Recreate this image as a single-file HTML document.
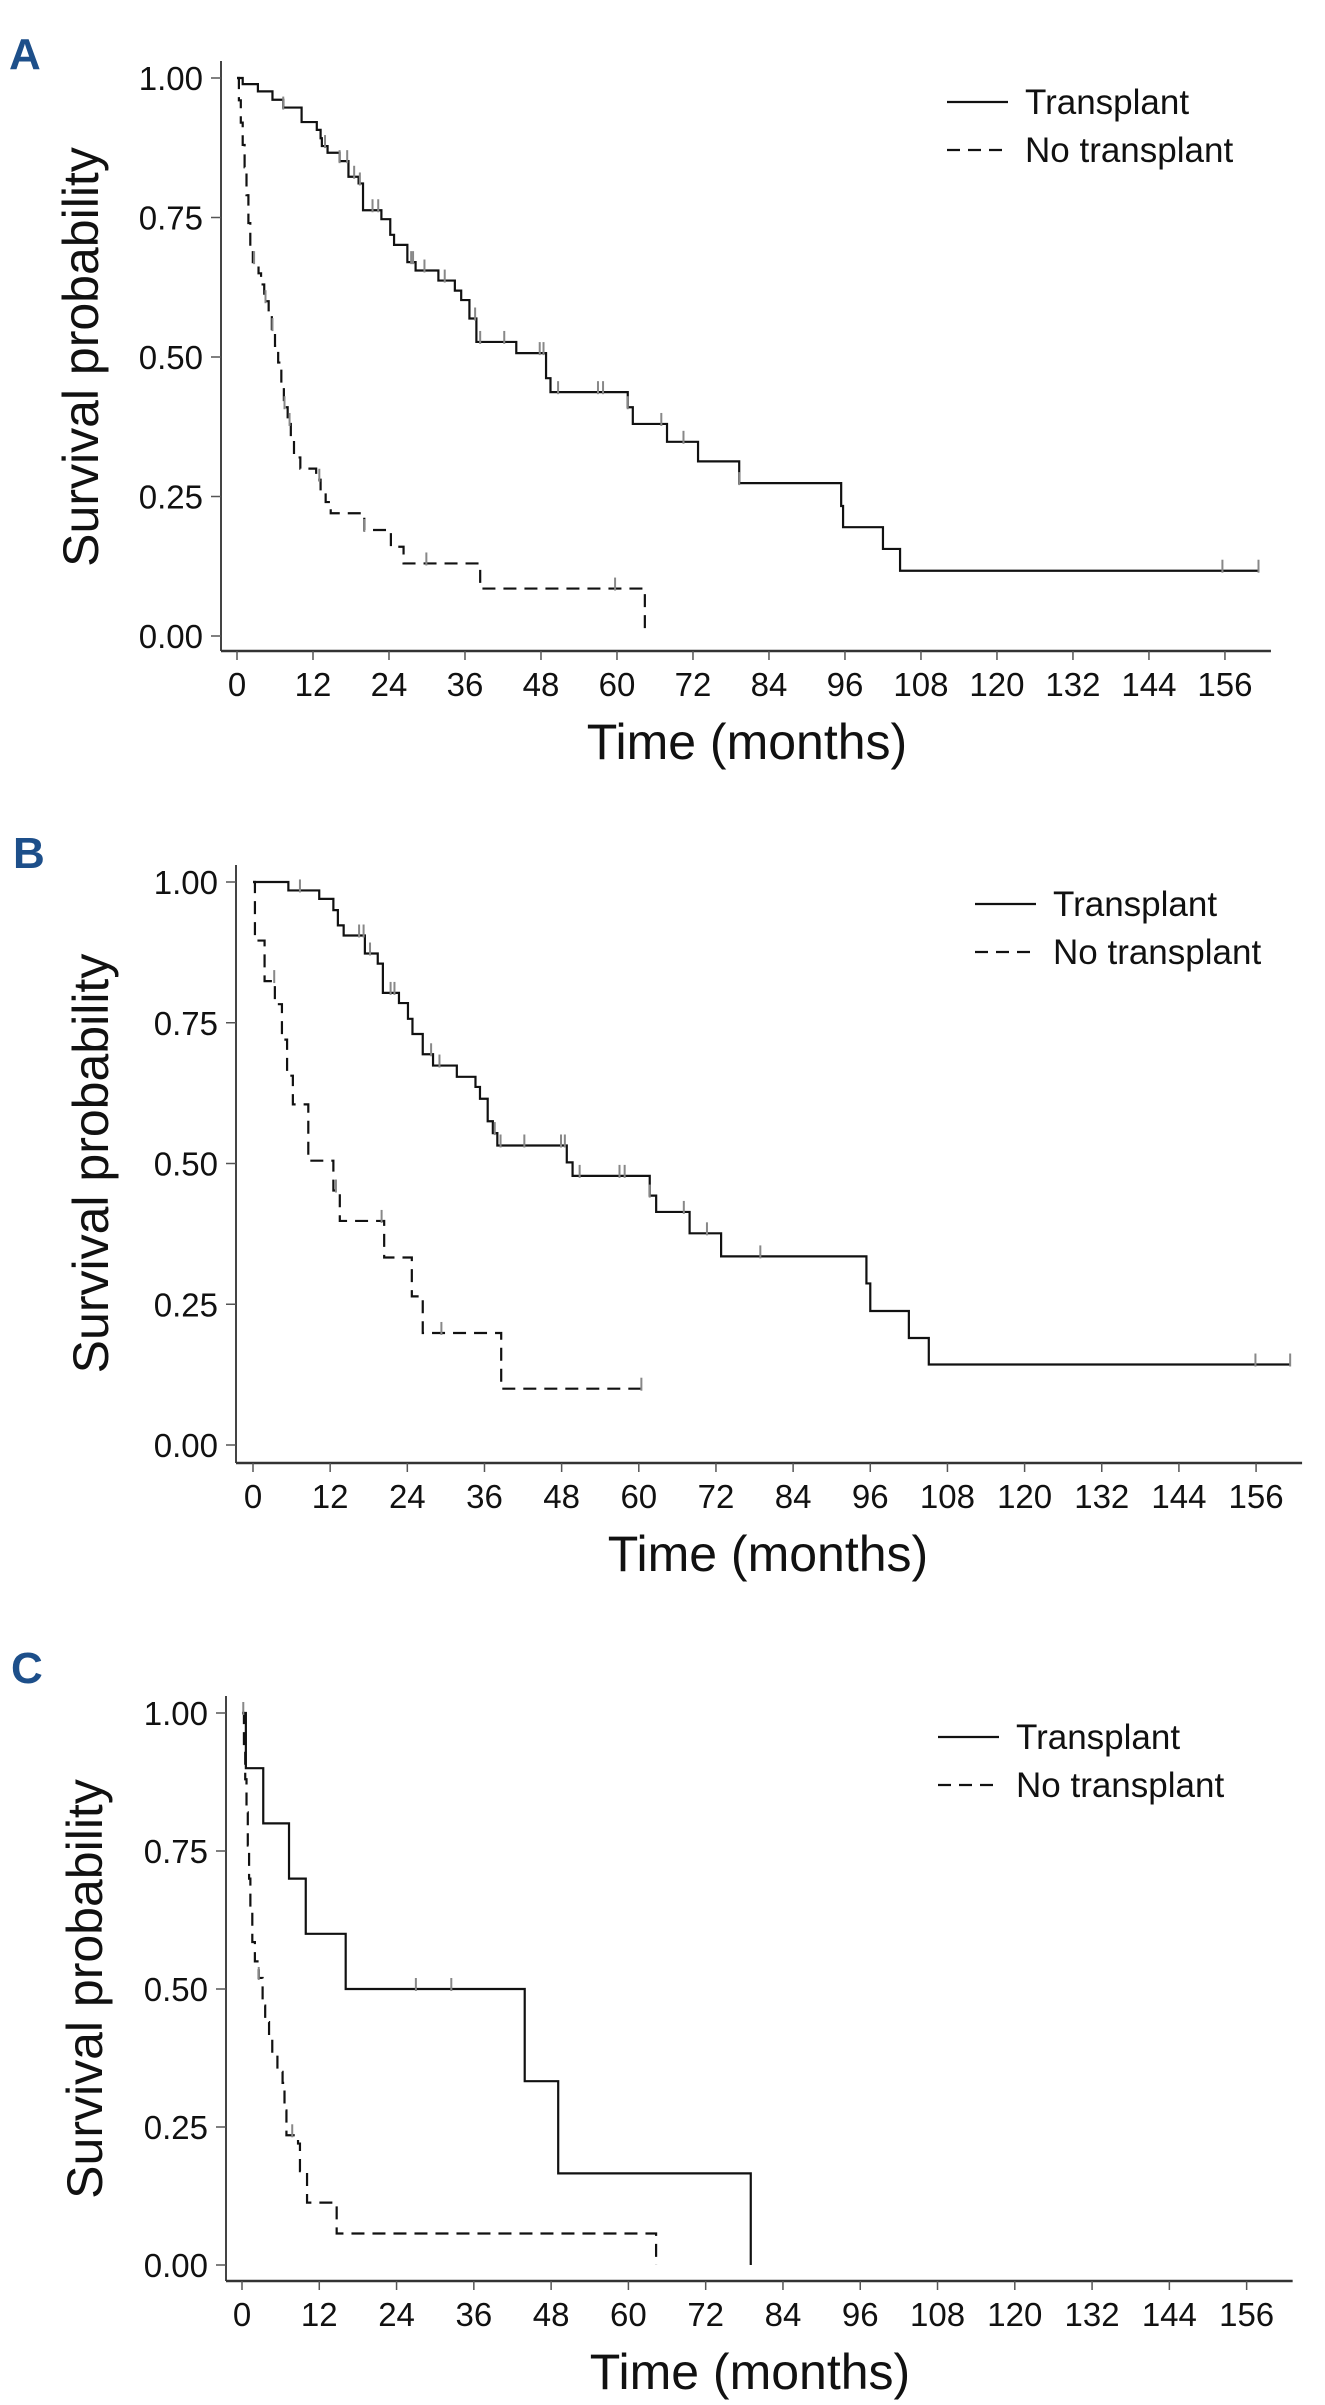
<!DOCTYPE html>
<html><head><meta charset="utf-8"><style>
html,body{margin:0;padding:0;background:#fff;}
svg{display:block;font-family:"Liberation Sans",Arial,sans-serif;}
</style></head><body>
<svg id="fig" width="1325" height="2405" viewBox="0 0 1325 2405" xmlns="http://www.w3.org/2000/svg"></svg>
<script>
// ---------- data ----------
const xTickLabels = [0,12,24,36,48,60,72,84,96,108,120,132,144,156];
const yTickLabels = [0,0.25,0.5,0.75,1];
const seriesNames = ["Transplant","No transplant"];

// Panel A
const aTxTimes = [0.9,3.3,5.6,7.3,10.2,12.6,13.2,13.4,14.3,16.2,17.6,19.2,19.9,22.8,24.2,24.8,26.9,28.2,31.8,34.4,35.4,36.7,37.8,44.1,48.8,49.5,61.7,62.5,67.9,72.8,79.3,95.4,95.7,102,104.7];
const aTxSurv  = [0.989,0.976,0.961,0.947,0.921,0.907,0.892,0.878,0.866,0.851,0.823,0.811,0.763,0.747,0.719,0.701,0.670,0.655,0.637,0.619,0.602,0.569,0.527,0.507,0.462,0.437,0.41,0.380,0.348,0.313,0.274,0.233,0.195,0.156,0.117];
const aTxEnd = 161.3;
const aTxCensor = [7.3,13.9,16.2,17.4,18.5,19.4,21.4,22.3,27.5,27.8,29.6,32.8,37.6,38.4,42.2,47.8,48.4,50.7,57,57.8,61.7,67,70.5,79.3,155.6,161.3];
const aNoTimes = [0.3,0.6,0.9,1.2,1.5,1.8,2.1,2.5,3.4,3.8,4.3,5.0,5.5,6.0,6.5,7.0,7.4,8.0,8.5,9.0,10.0,12.5,13.2,14.0,14.8,20.1,24.3,26.3,38.4,64.4];
const aNoSurv  = [0.96,0.92,0.88,0.84,0.79,0.74,0.69,0.67,0.65,0.63,0.60,0.58,0.55,0.52,0.49,0.45,0.41,0.38,0.35,0.32,0.30,0.28,0.26,0.24,0.22,0.19,0.16,0.13,0.085,0.0];
const aNoEnd = 64.4;
const aNoCensor = [2.7,4.5,5.6,7.5,8.3,13,20.1,29.9,59.7];

// Panel B
const bTxTimes = [5.5,10.3,12.5,13.2,14.1,17.4,19.4,20.2,22.7,24.1,24.8,26.4,28,31.7,34.6,35.3,36.5,37.3,38,48.8,49.7,61.7,62.7,67.9,72.8,95.4,96,102,105.1];
const bTxSurv  = [0.985,0.97,0.95,0.923,0.905,0.873,0.855,0.803,0.785,0.757,0.730,0.694,0.674,0.654,0.636,0.615,0.575,0.554,0.532,0.502,0.478,0.443,0.414,0.376,0.335,0.287,0.238,0.19,0.143];
const bTxEnd = 161.3;
const bTxCensor = [7.3,16.5,17.2,18.2,21.4,22,27.7,29,37.6,38.5,42.2,47.9,48.5,50.8,57,57.8,61.7,67,70.6,78.9,155.9,161.3];
const bNoTimes = [0.3,1.8,3.4,4.5,5.3,6.2,8.6,12.5,13.5,20.4,24.7,26.4,38.6];
const bNoSurv  = [0.896,0.824,0.783,0.72,0.656,0.605,0.505,0.452,0.398,0.333,0.264,0.199,0.1];
const bNoEnd = 60.4;
const bNoCensor = [3.3,12.9,20,29.3,60.4];

// Panel C
const cTxTimes = [0.6,3.3,7.3,9.9,16.1,43.9,49.1,79];
const cTxSurv  = [0.90,0.80,0.70,0.60,0.50,0.333,0.166,0.0];
const cTxEnd = 79;
const cTxCensor = [27,32.5];
const cNoTimes = [0.3,0.5,0.7,0.9,1.1,1.3,1.6,2.0,2.6,3.2,3.6,4.2,4.7,5.5,6.3,6.6,6.9,8.7,9.0,10.1,14.7,64.3];
const cNoSurv  = [0.94,0.88,0.82,0.76,0.70,0.64,0.585,0.55,0.52,0.47,0.44,0.41,0.38,0.35,0.33,0.28,0.235,0.22,0.17,0.113,0.057,0.0];
const cNoEnd = 64.3;
const cNoCensor = [0.2,2.6,7.8];

// ---------- drawing ----------
const NS = "http://www.w3.org/2000/svg";
const svg = document.getElementById("fig");
function mk(tag, attrs, parent){
  const e = document.createElementNS(NS, tag);
  for (const k in attrs) e.setAttribute(k, attrs[k]);
  (parent||svg).appendChild(e);
  return e;
}
function survAt(times, surv, t){
  let v = 1;
  for (let i=0;i<times.length;i++){ if (times[i] <= t) v = surv[i]; }
  return v;
}

const panels = [
  {id:"a", letter:"A", axisX:221, x0:237, ppm:6.333, y1:78, y0:636, xAxisY:651, letterX:9, letterY:69, titleX:81, xTitleX:747, legX:947, legY:102,
   tx:[aTxTimes,aTxSurv,aTxEnd,aTxCensor], no:[aNoTimes,aNoSurv,aNoEnd,aNoCensor]},
  {id:"b", letter:"B", axisX:236, x0:253, ppm:6.43, y1:882, y0:1445, xAxisY:1463, letterX:13, letterY:868, titleX:91, xTitleX:768, legX:975, legY:904,
   tx:[bTxTimes,bTxSurv,bTxEnd,bTxCensor], no:[bNoTimes,bNoSurv,bNoEnd,bNoCensor]},
  {id:"c", letter:"C", axisX:226, x0:242, ppm:6.44, y1:1713, y0:2265, xAxisY:2281, letterX:11, letterY:1683, titleX:85, xTitleX:750, legX:938, legY:1737,
   tx:[cTxTimes,cTxSurv,cTxEnd,cTxCensor], no:[cNoTimes,cNoSurv,cNoEnd,cNoCensor]}
];

panels.forEach(p => {
  const g = mk("g", {});
  
  
  const X = m => p.x0 + m * p.ppm;
  const Y = v => p.y0 - v * (p.y0 - p.y1);
  const xEnd = X(156) + 46;

  const lab = mk("text", {x:p.letterX, y:p.letterY, "font-size":44, "font-weight":"bold", fill:"#1d4f8a"}, g);
  lab.textContent = p.letter;
  
  

  const ya = mk("line", {x1:p.axisX, y1:p.y1-17, x2:p.axisX, y2:p.xAxisY, stroke:"#444", "stroke-width":2}, g);
  
  
  const xa = mk("line", {x1:p.axisX, y1:p.xAxisY, x2:xEnd, y2:p.xAxisY, stroke:"#333", "stroke-width":2.5}, g);
  
  

  yTickLabels.forEach(v => {
    mk("line", {x1:p.axisX-10, y1:Y(v), x2:p.axisX, y2:Y(v), stroke:"#555", "stroke-width":1.5}, g);
    const t = mk("text", {x:p.axisX-18, y:Y(v)+12, "font-size":33, "text-anchor":"end", fill:"#111"}, g);
    t.textContent = v.toFixed(2);
    
    
  });
  xTickLabels.forEach(m => {
    mk("line", {x1:X(m), y1:p.xAxisY, x2:X(m), y2:p.xAxisY+9, stroke:"#555", "stroke-width":1.5}, g);
    const t = mk("text", {x:X(m), y:p.xAxisY+45, "font-size":33, "text-anchor":"middle", fill:"#111"}, g);
    t.textContent = String(m);
    
    
  });

  const cy = (p.y0 + p.y1)/2;
  const yt = mk("text", {x:p.titleX, y:cy, "font-size":50, "text-anchor":"middle", "dominant-baseline":"central", fill:"#111", transform:`rotate(-90 ${p.titleX} ${cy})`}, g);
  yt.textContent = "Survival probability";
  
  
  const xt = mk("text", {x:p.xTitleX, y:p.xAxisY+108, "font-size":50, "text-anchor":"middle", fill:"#111"}, g);
  xt.textContent = "Time (months)";
  
  

  [[p.tx, "transplant-curve", null],[p.no, "no-transplant-curve", "13 8"]].forEach(([s, name, dash]) => {
    const [times, surv, end, cens] = s;
    let d = `M${X(0)},${Y(1)}`;
    for (let i=0;i<times.length;i++){ d += ` H${X(times[i])} V${Y(surv[i])}`; }
    d += ` H${X(end)}`;
    const path = mk("path", {d:d, fill:"none", stroke:"#111", "stroke-width":2.2}, g);
    if (dash) path.setAttribute("stroke-dasharray", dash);
    
    
    cens.forEach(t => {
      const v = survAt(times, surv, t);
      const c = mk("line", {x1:X(t), y1:Y(v)+2, x2:X(t), y2:Y(v)-11, stroke:"#888", "stroke-width":2}, g);
      
      
    });
  });

  seriesNames.forEach((nm, i) => {
    const ly = p.legY + i*48;
    const ll = mk("line", {x1:p.legX, y1:ly, x2:p.legX+61, y2:ly, stroke:"#111", "stroke-width":2.2}, g);
    if (i===1) ll.setAttribute("stroke-dasharray", "13 8");
    
    
    const lt = mk("text", {x:p.legX+78, y:ly+12, "font-size":35, fill:"#111"}, g);
    lt.textContent = nm;
    
    
  });
});
</script>
</body></html>
